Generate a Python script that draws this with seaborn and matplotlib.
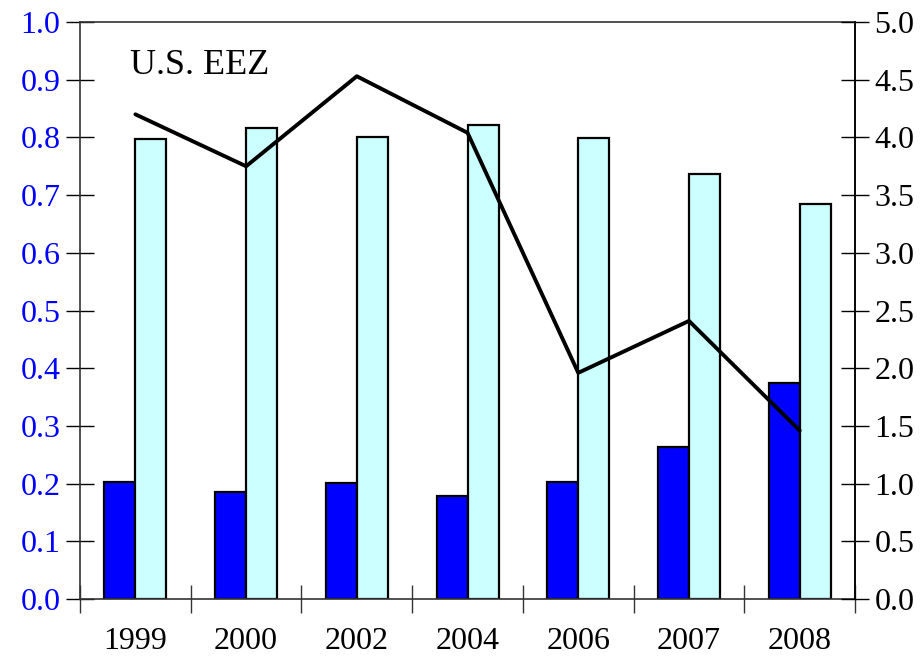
import matplotlib
matplotlib.use("Agg")
import matplotlib.pyplot as plt
import numpy as np
import pandas as pd
import seaborn as sns
from matplotlib.ticker import FixedLocator

years = ["1999", "2000", "2002", "2004", "2006", "2007", "2008"]
dark_vals = [0.203, 0.186, 0.201, 0.179, 0.202, 0.263, 0.374]
light_vals = [0.797, 0.816, 0.800, 0.821, 0.799, 0.737, 0.684]
line_vals = [4.20, 3.75, 4.53, 4.04, 1.96, 2.41, 1.46]

left_ticks = [i / 10 for i in range(11)]
right_ticks = [i / 2 for i in range(11)]

sns.set_theme(style="white")
plt.rcParams["font.family"] = ["Liberation Serif", "DejaVu Serif"]

df = pd.DataFrame({
    "year": years * 2,
    "value": dark_vals + light_vals,
    "series": ["a"] * len(years) + ["b"] * len(years),
})

fig = plt.figure(figsize=(9.21, 6.59), dpi=100)
ax = fig.add_axes([0.0869, 0.091, 0.8415, 0.8756])

sns.barplot(data=df, x="year", y="value", hue="series", order=years,
            palette=["#0000ff", "#ccffff"], width=0.56, edgecolor="black",
            linewidth=1.6, saturation=1, legend=False, ax=ax)

ax.set_xlim(-0.5, len(years) - 0.5)
ax.set_ylim(0, 1.0)
ax.set_yticks(left_ticks)
ax.set_yticklabels([f"{v:.1f}" for v in left_ticks])
ax.tick_params(axis="y", colors="black", labelcolor="#0000ff", labelsize=23,
               direction="inout", length=20, width=1, left=True, pad=4)
ax.tick_params(axis="x", which="major", length=0, labelsize=23, pad=20,
               labelcolor="black")
ax.xaxis.set_minor_locator(FixedLocator(np.arange(-0.5, len(years), 1.0)))
ax.tick_params(axis="x", which="minor", direction="inout", length=20, width=1,
               bottom=True, color="#333333")
ax.set_xlabel("")
ax.set_ylabel("")
for s in ax.spines.values():
    s.set_color("#333333")
    s.set_linewidth(1.2)

ax2 = ax.twinx()
sns.lineplot(x=np.arange(len(years)), y=line_vals, color="black", linewidth=2.8, ax=ax2)
ax2.set_ylim(0, 5.0)
ax2.set_yticks(right_ticks)
ax2.set_yticklabels([f"{v:.1f}" for v in right_ticks])
ax2.tick_params(axis="y", labelsize=23, direction="inout", length=20, width=1,
                right=True, pad=4, colors="black")
for s in ax2.spines.values():
    s.set_visible(False)
ax2.spines["right"].set_visible(True)
ax2.spines["right"].set_color("black")

ax.text(-0.05, 0.925, "U.S. EEZ", fontsize=26, color="black", va="center", ha="left")

fig.savefig("out.png", dpi=100)
